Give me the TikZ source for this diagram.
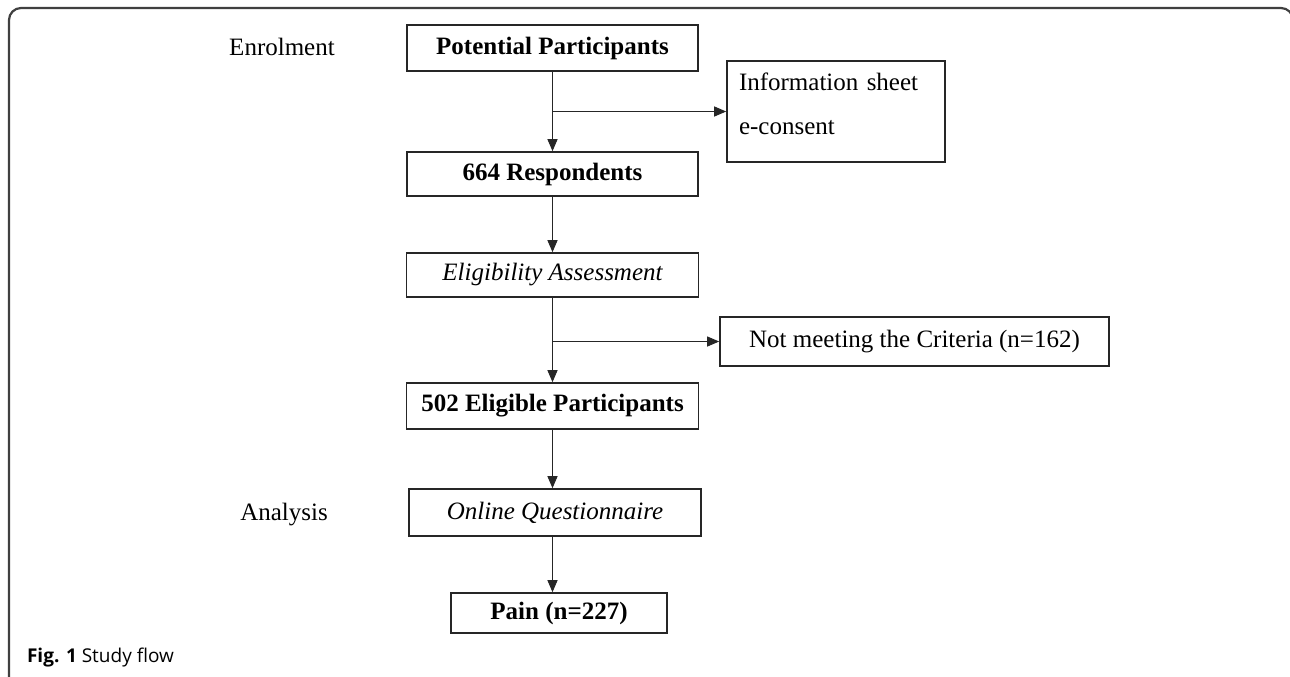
\documentclass[tikz,border=0pt]{standalone}
\usepackage{fontspec}
\setmainfont{Liberation Serif}
\newfontfamily\capfont{Open Sans}
\usetikzlibrary{arrows.meta,calc}

\begin{document}
\begin{tikzpicture}[x=0.5pt, y=-0.5pt,
        every node/.style={font=\fontsize{12.5}{14}\selectfont},
        flowbox/.style={draw=black!85, line width=0.8pt, inner sep=2pt},
        link/.style={draw=black!85, line width=0.5pt,
            -{Triangle[length=6pt,width=5pt]}},
        frame/.style={draw=black!75, line width=1.1pt, rounded corners=6pt}]
    \useasboundingbox (0,0) rectangle (1290,676);

    % outer frame
    \begin{scope}
        \clip (0,0) rectangle (1290,676);
        \draw[frame] (9,690) -- (9,8) -- (1293,8) -- (1293,690);
    \end{scope}

    % stages
    \node (enrol) at (282,47) {Enrolment};
    \node (analysis) at (284,515) {Analysis};

    % main column
    \node[flowbox, minimum width=145.5pt, minimum height=23pt]
        (pp) at (552.5,48) {\bfseries Potential Participants};
    \node[flowbox, minimum width=145.5pt, minimum height=22pt]
        (resp) at (552.5,174) {\bfseries 664 Respondents};
    \node[flowbox, minimum width=146pt, minimum height=22pt]
        (elig) at (552.5,275) {\itshape Eligibility Assessment};
    \node[flowbox, minimum width=146pt, minimum height=23pt]
        (eligible) at (552.5,406) {\bfseries 502 Eligible Participants};
    \node[flowbox, minimum width=146pt, minimum height=23.5pt]
        (quest) at (555,512.5) {\itshape Online Questionnaire};
    \node[flowbox, minimum width=108pt, minimum height=20pt]
        (pain) at (559,613) {\bfseries Pain (n=227)};

    % side boxes
    \node[flowbox, minimum width=109pt, minimum height=50.5pt,
        text width=97pt, align=left, text height=8pt, text depth=29.5pt,
        font=\fontsize{12.5}{22}\selectfont]
        (info) at (836,111.5) {Information sheet\\e-consent};
    \node[flowbox, minimum width=194.5pt, minimum height=24.5pt]
        (crit) at (914.5,341.5) {Not meeting the Criteria (n=162)};

    % arrows
    \draw[link] (pp.south) -- (resp.north);
    \draw[link] (resp.south) -- (elig.north);
    \draw[link] (elig.south) -- (eligible.north);
    \draw[link] (eligible.south) -- (eligible.south |- quest.north);
    \draw[link] (quest.south -| pp.south) -- (pain.north -| pp.south);

    \coordinate (split1) at (pp.south |- info.west);
    \draw[link] (split1) -- (info.west);
    \coordinate (split2) at (elig.south |- crit.west);
    \draw[link] (split2) -- (crit.west);

    % caption
    \node[anchor=west, font=\capfont\fontsize{9.5}{11}\selectfont]
        (caption) at (20,657) {\textbf{Fig. 1} Study flow};
\end{tikzpicture}
\end{document}
